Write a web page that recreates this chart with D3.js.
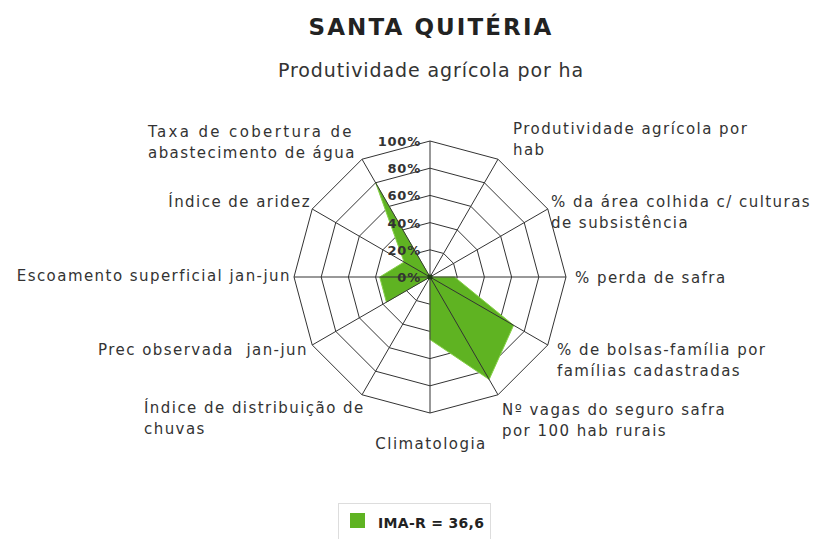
<!DOCTYPE html>
<html><head><meta charset="utf-8">
<script src="https://cdn.jsdelivr.net/npm/d3@7"></script>
<style>body{margin:0;background:#fff;}svg{display:block;} text{white-space:pre;}</style>
</head><body>
<svg id="chart" width="819" height="539"></svg>
<script>
const title = "SANTA QUITÉRIA";
const categories = [
  ["Produtividade agrícola por ha"],
  ["Produtividade agrícola por", "hab"],
  ["% da área colhida c/ culturas", "de subsistência"],
  ["% perda de safra"],
  ["% de bolsas-família por", "famílias cadastradas"],
  ["Nº vagas do seguro safra", "por 100 hab rurais"],
  ["Climatologia"],
  ["Índice de distribuição de", "chuvas"],
  ["Prec observada  jan-jun"],
  ["Escoamento superficial jan-jun"],
  ["Índice de aridez"],
  ["Taxa de cobertura de", "abastecimento de água"]
];
const values = [0, 0, 0, 18, 71, 87, 46, 0, 37, 37, 22, 80];
const ticks = [0, 20, 40, 60, 80, 100];
const tickLabels = ["0%", "20%", "40%", "60%", "80%", "100%"];
const legendLabel = "IMA-R = 36,6";

const svg = d3.select("#chart");
const cx = 430, cy = 277, R = 136;
const r = d3.scaleLinear().domain([0, 100]).range([0, R]);
const ang = d3.scaleLinear().domain([0, categories.length]).range([0, 2 * Math.PI]);
const pt = (i, v) => [cx + r(v) * Math.sin(ang(i)), cy - r(v) * Math.cos(ang(i))];
const font = "'DejaVu Sans', Verdana, sans-serif";
const gridColor = "#333";
const green = "#5fb322";

// rings
ticks.filter(t => t > 0).forEach(t => {
  svg.append("path")
    .attr("d", d3.line()(d3.range(categories.length).map(i => pt(i, t))) + "Z")
    .attr("fill", "none").attr("stroke", gridColor).attr("stroke-width", 1);
});

// data polygon
svg.append("path")
  .attr("d", d3.line()(values.map((v, i) => pt(i, v))) + "Z")
  .attr("fill", green).attr("stroke", "#86d048").attr("stroke-width", 1);

// spokes
categories.forEach((c, i) => {
  const [x, y] = pt(i, 100);
  svg.append("line").attr("x1", cx).attr("y1", cy).attr("x2", x).attr("y2", y)
    .attr("stroke", gridColor).attr("stroke-width", 1);
});
svg.append("circle").attr("cx", cx).attr("cy", cy).attr("r", 2.5).attr("fill", "#1d3d10");

// tick labels
ticks.forEach((t, k) => {
  svg.append("text").attr("x", cx - 9).attr("y", cy - r(t) + 5)
    .attr("text-anchor", "end").attr("font-family", font).attr("font-weight", "bold")
    .attr("font-size", 13).attr("letter-spacing", 0.8).attr("fill", "#333").text(tickLabels[k]);
});

// category labels
const labelPos = [
  {x: 431, y: 77, a: "middle", fs: 19, ls: 0.9},
  {x: 513, y: 134, a: "start"},
  {x: 551, y: 207, a: "start"},
  {x: 575, y: 283, a: "start"},
  {x: 557, y: 355, a: "start"},
  {x: 502, y: 415, a: "start"},
  {x: 431, y: 449, a: "middle"},
  {x: 144, y: 413, a: "start"},
  {x: 308, y: 355, a: "end"},
  {x: 291, y: 281, a: "end"},
  {x: 311, y: 207, a: "end"},
  {x: 148, y: 137, a: "start", fit: 205}
];
categories.forEach((lines, i) => {
  const p = labelPos[i];
  lines.forEach((ln, j) => {
    const t = svg.append("text").attr("x", p.x).attr("y", p.y + j * 20.5)
      .attr("text-anchor", p.a).attr("font-family", font)
      .attr("font-size", p.fs || 15).attr("letter-spacing", p.ls || 1.45)
      .attr("fill", "#333").text(ln);
    if (p.fit && j === 0) t.attr("textLength", p.fit).attr("lengthAdjust", "spacing");
  });
});

// title
svg.append("text").attr("x", 431).attr("y", 35).attr("text-anchor", "middle")
  .attr("font-family", font).attr("font-weight", "bold").attr("font-size", 23)
  .attr("letter-spacing", 2.1).attr("fill", "#222").text(title);

// legend
const lg = svg.append("g");
lg.append("rect").attr("x", 338.5).attr("y", 503.5).attr("width", 152).attr("height", 40)
  .attr("fill", "#fff").attr("stroke", "#ddd");
lg.append("rect").attr("x", 350).attr("y", 513).attr("width", 15).attr("height", 15).attr("fill", green);
lg.append("text").attr("x", 378).attr("y", 528).attr("font-family", font).attr("font-weight", "bold")
  .attr("font-size", 14).attr("letter-spacing", 0.3).attr("fill", "#222").text(legendLabel);
</script>
</body></html>
